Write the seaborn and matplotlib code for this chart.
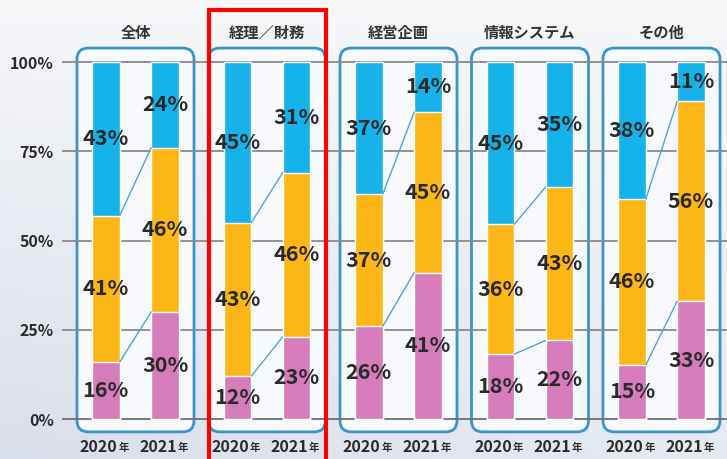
import numpy as np
import pandas as pd
import seaborn as sns
import matplotlib.pyplot as plt
from matplotlib.patches import FancyBboxPatch, Rectangle

groups = ["全体", "経理／財務", "経営企画", "情報システム", "その他"]
years = ["2020", "2021"]
pink_2020 = [16, 12, 26, 18, 15]
orange_2020 = [41, 43, 37, 36, 46]
blue_2020 = [43, 45, 37, 45, 38]
pink_2021 = [30, 23, 41, 22, 33]
orange_2021 = [46, 46, 45, 43, 56]
blue_2021 = [24, 31, 14, 35, 11]
ytick_vals = [0, 25, 50, 75, 100]
ytick_labels = ["0%", "25%", "50%", "75%", "100%"]

C_BLUE = "#15b3e9"
C_ORANGE = "#fcb717"
C_PINK = "#d77cbb"
C_TEXT = "#2a2a2a"
FAM = ["Noto Sans CJK JP", "DejaVu Sans"]

sns.set_theme(style="white")
plt.rcParams["font.family"] = FAM

rows = []
for year, P, O, B in [("2020", pink_2020, orange_2020, blue_2020),
                      ("2021", pink_2021, orange_2021, blue_2021)]:
    for g, p, o, b in zip(groups, P, O, B):
        tot = p + o + b
        rows.append(dict(group=g, year=year, pink=p, orange=o, blue=b,
                         c1=p * 100 / tot, c2=(p + o) * 100 / tot, c3=100.0))
df = pd.DataFrame(rows)

W, H = 727, 459
fig = plt.figure(figsize=(W / 100, H / 100), dpi=100)

# background gradient
bg = fig.add_axes([0, 0, 1, 1], zorder=-10)
yy, xx = np.mgrid[0:1:200j, 0:1:200j]
val = 0.55 * yy + 0.45 * (1 - xx) * yy
bg.imshow(val, cmap=sns.blend_palette(["#f6f7f9", "#d9dfea"], as_cmap=True),
          aspect="auto", extent=[0, 1, 0, 1], origin="upper")
bg.axis("off")

px_per_unit_y = 357 / 100
y0_px = 419
ymin, ymax = -6, 106
top_px = y0_px - ymax * px_per_unit_y
bot_px = y0_px - ymin * px_per_unit_y
left_px = 62
ax = fig.add_axes([left_px / W, 1 - bot_px / H, 1 - left_px / W, (bot_px - top_px) / H])
ax.set_facecolor("none")

group_px = 131.5
for col, color in [("c3", C_BLUE), ("c2", C_ORANGE), ("c1", C_PINK)]:
    sns.barplot(data=df, x="group", y=col, hue="year", order=groups, hue_order=years,
                palette=[color, color], width=0.9, gap=0.53, saturation=1,
                errorbar=None, legend=False, ax=ax, zorder=3)

x_left_unit = (left_px - 135.5) / group_px
x_right_unit = (W - 135.5) / group_px
ax.set_xlim(x_left_unit, x_right_unit)
ax.set_ylim(ymin, ymax)

off = 0.225
bw = 0.45 * 0.47
for i, g in enumerate(groups):
    box = FancyBboxPatch((i - 0.445, -3.6), 0.89, 107.5,
                         boxstyle="round,pad=0,rounding_size=0.085",
                         mutation_aspect=group_px / px_per_unit_y,
                         fc="#f8f9fc", ec="#3b93cb", lw=2.0, zorder=0.3)
    ax.add_patch(box)
    r20 = df[(df.group == g) & (df.year == "2020")].iloc[0]
    r21 = df[(df.group == g) & (df.year == "2021")].iloc[0]
    for col in ["c1", "c2"]:
        ax.plot([i - off + bw / 2, i + off - bw / 2], [r20[col], r21[col]],
                color="#4aa6da", lw=1.0, zorder=4)
    for r, xo in [(r20, -off), (r21, off)]:
        segs = [(0, r["c1"], r["pink"]), (r["c1"], r["c2"], r["orange"]),
                (r["c2"], r["c3"], r["blue"])]
        for lo, hi, v in segs:
            ax.text(i + xo, (lo + hi) / 2, f"{v}%", ha="center", va="center",
                    fontsize=15.5, fontweight="bold", color=C_TEXT, zorder=5,
                    family=FAM)
        yr = r["year"]
        ax.text(i + xo + 0.09, -7.9, yr, ha="right", va="center", fontsize=11.5,
                fontweight="bold", color=C_TEXT, clip_on=False, family=FAM)
        ax.text(i + xo + 0.093, -8.1, "年", ha="left", va="center", fontsize=7.5,
                fontweight="bold", color=C_TEXT, clip_on=False, family=FAM)
    ax.text(i, 108.2, g, ha="center", va="center", fontsize=11, fontweight="bold",
            color="#333333", clip_on=False, family=FAM)

for v in ytick_vals:
    ax.axhline(v, color="#6e6e6e" if v == 0 else "#8a8a8a", lw=1.3, zorder=1)

ax.set_yticks(ytick_vals)
ax.set_yticklabels(ytick_labels, fontsize=11.5, fontweight="bold", color=C_TEXT)
ax.tick_params(axis="y", length=0, pad=6)
ax.set_xticks([])
ax.set_xlabel("")
ax.set_ylabel("")
for s in ax.spines.values():
    s.set_visible(False)

fig.patches.append(Rectangle((209 / W, -0.05), (326 - 209) / W, 1.05 - 10 / H,
                             transform=fig.transFigure, fill=False, ec="#ff0000",
                             lw=3.0, zorder=20))

fig.savefig("out.png", dpi=100)
